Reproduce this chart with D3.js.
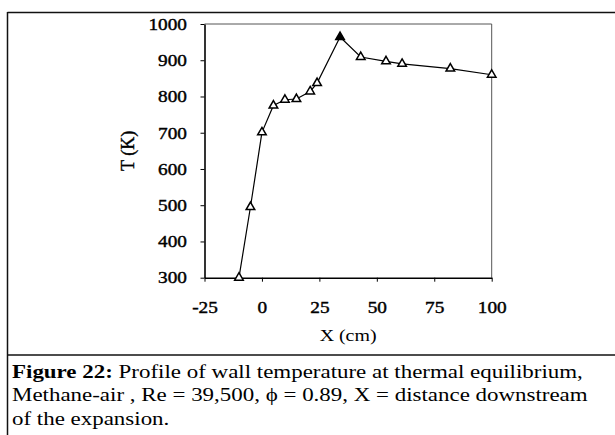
<!DOCTYPE html>
<html>
<head>
<meta charset="utf-8">
<script src="https://cdn.jsdelivr.net/npm/d3@7"></script>
<style>
  body { margin: 0; background: #fff; }
  text { font-family: "Liberation Serif", "Times New Roman", serif; fill: #000; }
</style>
</head>
<body>
<svg id="chart" width="615" height="435"></svg>
<script>
// wall temperature profile
var xPos = [-10, -5, 0, 5, 10, 15, 21, 24, 34, 43, 54, 61, 82, 100];   // X (cm)
var temps = [300, 495, 701, 775, 791, 793, 814, 837, 964, 909, 897, 890, 877, 860];  // T (K)
var filled = [false, false, false, false, false, false, false, false, true, false, false, false, false, false];

var xTicks = [-25, 0, 25, 50, 75, 100];
var yTicks = [300, 400, 500, 600, 700, 800, 900, 1000];

var captionLines = [
  [{t: "Figure 22:", b: true}, {t: " Profile of wall temperature at thermal equilibrium,", b: false}],
  [{t: "Methane-air , Re = 39,500, \u03d5 = 0.89, X = distance downstream", b: false}],
  [{t: "of the expansion.", b: false}]
];

var stretch = 1.17;   // the scanned figure is a bit wide

var svg = d3.select("#chart");

var margin = {top: 24, left: 204.5, right: 615 - 491.7, bottom: 435 - 277.7};
var width = 615 - margin.left - margin.right,
    height = 435 - margin.top - margin.bottom;

// outer figure frame
svg.append("line").attr("x1", 7.5).attr("x2", 615).attr("y1", 12.5).attr("y2", 12.5)
  .attr("stroke", "#111").attr("stroke-width", 1.5);
svg.append("line").attr("x1", 7.5).attr("x2", 7.5).attr("y1", 12).attr("y2", 435)
  .attr("stroke", "#111").attr("stroke-width", 1.5);
svg.append("line").attr("x1", 7.5).attr("x2", 615).attr("y1", 355).attr("y2", 355)
  .attr("stroke", "#111").attr("stroke-width", 1.5);

var g = svg.append("g")
  .attr("transform", "translate(" + margin.left + "," + margin.top + ")");

var x = d3.scaleLinear().domain([-25, 100]).range([0, width]);
var y = d3.scaleLinear().domain([300, 1000]).range([height, 0]);

// plot frame (top and right)
g.append("path")
  .attr("d", "M0,0H" + width + "V" + height)
  .attr("fill", "none").attr("stroke", "#555").attr("stroke-width", 1);

var fmt = function(d) { return String(d); };
var xAxis = g.append("g")
  .attr("transform", "translate(0," + height + ")")
  .call(d3.axisBottom(x).tickValues(xTicks).tickFormat(fmt).tickSizeInner(4).tickSizeOuter(0).tickPadding(19.5));
var yAxis = g.append("g")
  .call(d3.axisLeft(y).tickValues(yTicks).tickFormat(fmt).tickSizeInner(4).tickSizeOuter(0).tickPadding(11));

[xAxis, yAxis].forEach(function(a) {
  a.select(".domain").attr("stroke", "#000").attr("stroke-width", 1.6);
  a.selectAll(".tick line").attr("stroke", "#000");
  a.selectAll(".tick text")
    .style("font-family", "'Liberation Serif', serif")
    .style("font-size", "16.5px")
    .attr("fill", "#000")
    .attr("stroke", "#000")
    .attr("stroke-width", 0.4)
    .attr("transform", "scale(" + stretch + ",1)");
});

// axis titles
g.append("text")
  .attr("transform", "translate(" + (128 - margin.left) + "," + (height / 2) + ") rotate(-90)")
  .attr("text-anchor", "middle")
  .attr("dy", "0.35em")
  .attr("stroke", "#000")
  .attr("stroke-width", 0.4)
  .style("font-size", "18px")
  .text("T (K)");

g.append("text")
  .attr("transform", "translate(" + (width / 2) + "," + (341 - margin.top) + ") scale(" + stretch + ",1)")
  .attr("text-anchor", "middle")
  .style("font-size", "17px")
  .text("X (cm)");

// data line
var pts = xPos.map(function(v, i) { return {x: v, t: temps[i], f: filled[i]}; });

var line = d3.line()
  .x(function(d) { return x(d.x); })
  .y(function(d) { return y(d.t); });

g.append("path")
  .datum(pts)
  .attr("d", line)
  .attr("fill", "none")
  .attr("stroke", "#000")
  .attr("stroke-width", 1.2);

var tri = d3.symbol().type(d3.symbolTriangle).size(32);
g.selectAll(".mark")
  .data(pts)
  .enter().append("path")
  .attr("class", "mark")
  .attr("d", tri)
  .attr("transform", function(d) { return "translate(" + x(d.x) + "," + y(d.t) + ")"; })
  .attr("fill", function(d) { return d.f ? "#000" : "#fff"; })
  .attr("stroke", "#000")
  .attr("stroke-width", 1.5);

// caption, stretched so its widest line spans the same width as in the figure
var cap = svg.append("g");
var capTexts = [];
captionLines.forEach(function(parts, i) {
  var t = cap.append("text")
    .attr("x", 0)
    .attr("y", 378 + i * 23.5)
    .style("font-size", "18px");
  parts.forEach(function(p) {
    t.append("tspan")
      .style("font-weight", p.b ? "bold" : "normal")
      .text(p.t);
  });
  capTexts.push(t);
});
var w2 = capTexts[1].node().getComputedTextLength();
var sx = (588 - 12) / w2;
cap.attr("transform", "translate(12,0) scale(" + sx + ",1)");
</script>
</body>
</html>
